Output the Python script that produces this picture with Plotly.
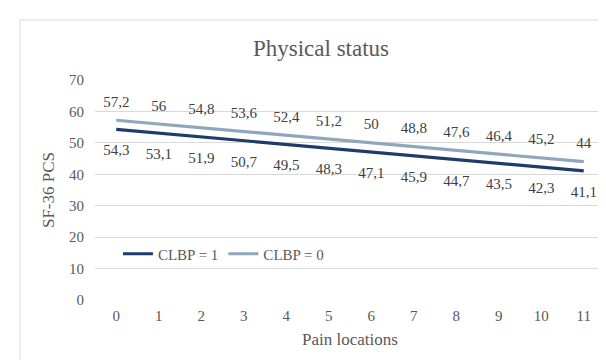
import plotly.graph_objects as go

pain_locations = list(range(12))
clbp1 = [54.3, 53.1, 51.9, 50.7, 49.5, 48.3, 47.1, 45.9, 44.7, 43.5, 42.3, 41.1]
clbp0 = [57.2, 56, 54.8, 53.6, 52.4, 51.2, 50, 48.8, 47.6, 46.4, 45.2, 44]
y_ticks = [0, 10, 20, 30, 40, 50, 60, 70]

FONT = "Liberation Serif"
DARK = "#1d3c6b"
LIGHT = "#8ea7bc"


def lab(v):
    return f"{v:g}".replace(".", ",")


fig = go.Figure()
fig.add_trace(go.Scatter(
    x=pain_locations, y=clbp1, name="CLBP = 1", mode="lines+markers+text",
    line=dict(color=DARK, width=3.2),
    marker=dict(size=22, color="rgba(0,0,0,0)"),
    text=[lab(v) for v in clbp1], textposition="bottom center",
    textfont=dict(family=FONT, size=15, color="#404040"),
    hoverinfo="x+y",
))
fig.add_trace(go.Scatter(
    x=pain_locations, y=clbp0, name="CLBP = 0", mode="lines+markers+text",
    line=dict(color=LIGHT, width=3.2),
    marker=dict(size=14, color="rgba(0,0,0,0)"),
    text=[lab(v) for v in clbp0], textposition="top center",
    textfont=dict(family=FONT, size=15, color="#404040"),
    hoverinfo="x+y",
))

fig.update_layout(
    width=606, height=360,
    margin=dict(l=87, r=9, t=72, b=68, autoexpand=False),
    paper_bgcolor="white", plot_bgcolor="white",
    font=dict(family=FONT, color="#595959", size=15),
    title=dict(text="Physical status", x=313 / 606, xanchor="center",
               y=1 - 40 / 360, yanchor="middle",
               font=dict(family=FONT, size=23, color="#595959")),
    showlegend=True,
    legend=dict(orientation="h", x=0.045, y=0.209, xanchor="left", yanchor="middle",
                bgcolor="rgba(0,0,0,0)", font=dict(family=FONT, size=15, color="#595959"),
                itemwidth=30, tracegroupgap=0),
    xaxis=dict(range=[-0.5, 11.5], tickmode="array", tickvals=pain_locations,
               ticktext=[str(v) for v in pain_locations],
               showgrid=False, zeroline=False, showline=False, ticks="",
               ticklabelstandoff=5, automargin=False,
               title=dict(text="Pain locations", standoff=10,
                          font=dict(family=FONT, size=17, color="#595959")),
               fixedrange=True),
    yaxis=dict(range=[0, 70], tickmode="array", tickvals=y_ticks,
               showgrid=True, gridcolor="#d9d9d9", gridwidth=1,
               zeroline=False, showline=False, ticks="",
               ticklabelstandoff=10, automargin=False,
               title=dict(text="SF-36 PCS", standoff=10,
                          font=dict(family=FONT, size=17, color="#595959")),
               fixedrange=True),
    shapes=[dict(type="rect", xref="paper", yref="paper",
                 x0=(12 - 87) / 510, x1=1.05, y0=-0.6, y1=(292 - 12) / 220,
                 line=dict(color="#d9d9d9", width=1), fillcolor="rgba(0,0,0,0)",
                 layer="below")],
)

fig.write_html("out.html")
